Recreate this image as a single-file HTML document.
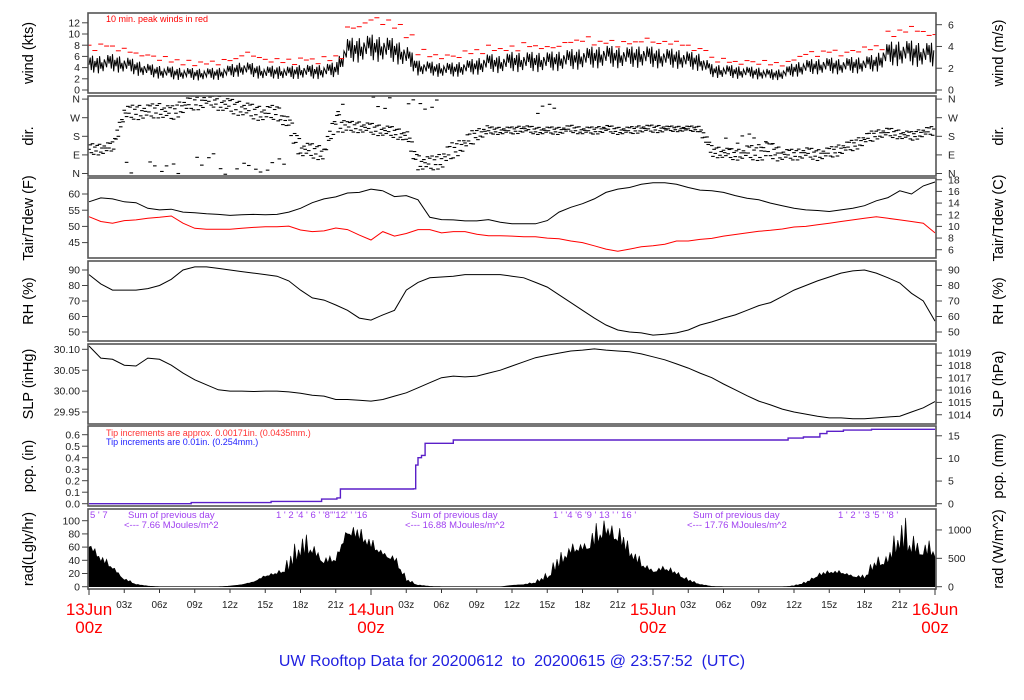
<!DOCTYPE html>
<html><head><meta charset="utf-8"><title>UW Rooftop Data</title>
<style>
html,body{margin:0;padding:0;background:#fff;}
svg{display:block;font-family:"Liberation Sans",Arial,sans-serif;}
.pre{white-space:pre;}
</style></head>
<body>
<svg id="chart" width="1024" height="700" viewBox="0 0 1024 700" xmlns="http://www.w3.org/2000/svg"></svg>
<script>
// ---------- data (hourly, h = 0..72) ----------
const windMean=[4.5,4.6,4.8,4.5,4.0,3.5,3.2,3.0,2.9,2.8,2.8,2.9,3.3,3.8,3.5,3.0,3.2,3.0,3.3,3.2,3.3,3.6,7.0,7.2,7.5,7.3,7.0,6.0,4.0,3.8,3.6,3.6,3.9,4.2,4.8,4.6,5.0,5.0,5.0,5.0,5.2,5.4,5.6,5.8,6.0,5.8,5.8,6.0,5.8,5.6,5.6,5.2,5.0,3.4,3.3,3.2,3.1,3.0,2.7,2.8,3.6,4.0,4.2,4.3,4.2,4.4,4.5,4.8,6.3,6.6,6.5,6.3,6.2];
const windSpread=[1.6,1.6,1.6,1.5,1.4,1.2,1.2,1.2,1.1,1.1,1.1,1.1,1.2,1.3,1.3,1.2,1.2,1.2,1.3,1.3,1.3,1.4,2.2,2.3,2.4,2.3,2.2,2.0,1.4,1.3,1.3,1.3,1.4,1.5,1.7,1.6,1.8,1.8,1.8,1.8,1.8,1.9,1.9,2.0,2.0,1.9,1.9,2.0,1.9,1.8,1.8,1.7,1.6,1.2,1.2,1.2,1.1,1.1,1.0,1.0,1.3,1.4,1.4,1.5,1.4,1.5,1.5,1.6,2.2,2.3,2.3,2.2,2.2];
const windGust=[7.5,8,7.5,7,6.5,6,5.5,5,4.8,4.8,4.8,5,5.5,6.5,6,5,5.2,5,5.5,5.2,5.5,6,11,11.5,12.5,12,11.5,9.5,6.8,6.2,6,6,6.5,6.8,7.5,7.2,7.5,8,7.8,7.5,8,8.5,9,8.5,8.5,8.2,8.5,9,8.5,8.2,8.3,7.5,7.2,5.5,5.2,5,5,4.8,4.5,4.6,5.8,6.5,6.5,7,6.5,7,7.2,7.5,10,10.5,11,10,9.8];
// direction: 0=N 1=E 2=S 3=W 4=N
const dirMain=[1.3,1.3,1.4,3.2,3.3,3.3,3.4,3.2,3.6,3.8,3.9,3.8,3.6,3.5,3.3,3.2,3.3,2.6,1.3,1.2,1.1,2.8,2.5,2.5,2.4,2.3,2.2,2.0,0.6,0.5,0.7,1.2,1.6,2.1,2.3,2.3,2.3,2.4,2.3,2.3,2.3,2.4,2.3,2.3,2.4,2.3,2.3,2.4,2.4,2.4,2.4,2.4,2.4,1.2,1.1,1.0,1.1,1.1,1.2,1.0,1.0,1.1,1.0,1.1,1.3,1.5,1.8,2.1,2.2,2.1,2.0,2.2,2.3];
const dirSpread=[0.3,0.3,0.3,0.4,0.4,0.4,0.4,0.4,0.4,0.4,0.3,0.4,0.4,0.4,0.4,0.4,0.4,0.5,0.4,0.4,0.4,0.5,0.3,0.3,0.3,0.3,0.3,0.4,0.4,0.4,0.5,0.4,0.4,0.3,0.2,0.2,0.2,0.2,0.2,0.2,0.2,0.2,0.2,0.2,0.2,0.2,0.2,0.2,0.2,0.15,0.15,0.15,0.3,0.3,0.3,0.3,0.4,0.5,0.4,0.3,0.3,0.3,0.3,0.3,0.3,0.3,0.3,0.25,0.25,0.25,0.25,0.25,0.25];
const dirScatter=[null,null,null,0.3,null,0.5,0.2,0.3,null,0.6,1.0,0.2,0.1,0.4,0.2,0.3,0.5,null,null,null,null,3.6,null,null,3.9,3.8,null,3.9,3.7,3.8,null,null,null,null,null,null,null,null,3.5,3.6,null,null,null,null,null,null,null,null,null,null,null,null,null,null,1.6,1.9,2.0,1.5,1.4,null,null,null,null,null,null,null,null,null,null,null,null,null,null];
const tempF=[57.6,58.8,58.5,57.6,57.3,55.6,55.1,55.3,54.4,54.2,53.9,53.7,53.4,53.6,53.7,53.6,53.7,54.4,55.6,57.3,58.5,59.1,60.3,60.5,61.5,61.0,59.2,59.5,58.2,52.8,52.1,52.0,51.7,51.7,52.1,51.3,50.8,50.8,50.8,51.8,54.4,55.9,57.0,58.5,60.5,61.5,62.0,63.0,63.5,63.5,63.0,62.0,61.2,61.0,60.5,59.5,58.7,58.2,57.2,56.4,55.6,55.1,54.9,54.6,55.1,55.6,56.4,57.9,58.9,61.0,60.0,62.5,63.7];
const dewF=[53.0,51.5,51.0,51.8,52.0,52.5,52.8,53.2,51.0,49.4,49.1,49.1,49.1,49.4,49.7,49.9,49.9,50.1,48.9,48.4,48.6,49.5,49.0,47.3,45.8,48.4,47.0,47.8,49.0,49.0,48.0,48.4,48.4,47.6,47.1,47.1,47.0,46.8,46.8,46.4,46.2,45.5,45.0,44.0,43.0,42.3,43.0,43.7,44.0,44.5,45.5,45.5,46.0,46.3,47.0,47.5,48.0,48.5,48.8,49.2,49.8,50.0,50.5,51.0,51.5,52.0,52.5,53.0,52.5,52.0,51.5,51.0,48.0];
const rhPct=[87,81,77,77,77,78,80,84,90,92,92,91,90,89,88,87,86,83,77,72,70.6,67.4,64,59,57.7,61,64,77,82,85,85.5,86,87,87,87,87,86,85,82,79,74,69,64,59,54.5,51.3,50,49.4,48,48.5,49.4,51.3,54.5,56.5,59,61,64,67,69,73,77,80,83,85.5,88,89.4,90,88,85,81.6,75,70,57];
const slpIn=[30.108,30.079,30.076,30.062,30.06,30.079,30.076,30.062,30.043,30.027,30.015,30.003,30.0,30.0,29.999,30.0,30.0,29.998,29.995,29.99,29.988,29.98,29.98,29.978,29.976,29.98,29.988,29.996,30.008,30.02,30.032,30.036,30.034,30.036,30.043,30.05,30.06,30.07,30.08,30.086,30.091,30.096,30.098,30.101,30.098,30.096,30.094,30.089,30.082,30.075,30.065,30.055,30.043,30.032,30.017,30.003,29.989,29.976,29.967,29.957,29.95,29.945,29.94,29.936,29.936,29.934,29.934,29.936,29.938,29.94,29.95,29.96,29.975];
const pcpHours=[0,8.7,15.5,19.8,21.1,21.4,27.6,27.8,28.0,28.3,28.6,31.0,59.5,60.8,62.2,62.8,64.2,66.6,72];
const pcpValues=[0,0.01,0.02,0.04,0.05,0.128,0.13,0.336,0.40,0.42,0.525,0.554,0.57,0.58,0.61,0.63,0.64,0.647,0.647];
const radBase=[60,38,27,10,3,1,0,0,0,0,0,0,1,3,7,15,19,23,45,50,35,38,80,70,58,48,38,8,2,0.5,0,0,0,0,0,0,2,3,5,12,28,50,55,60,78,68,45,30,22,25,18,8,3,0.5,0,0,0,0,0,0,1,5,15,20,20,15,12,30,35,55,50,48,45];
const radPeak=[65,50,35,15,4,1,0,0,0,0,0,0,1,3,8,18,22,45,85,80,50,45,92,90,75,58,50,15,3,0.5,0,0,0,0,0,0,2,4,8,25,50,65,75,100,100,95,65,45,30,32,25,12,4,0.5,0,0,0,0,0,0,2,8,20,25,25,20,18,50,45,110,110,75,70];
const xTickLabels=["","03z","06z","09z","12z","15z","18z","21z","","03z","06z","09z","12z","15z","18z","21z","","03z","06z","09z","12z","15z","18z","21z",""];
const dayLabels=["13Jun","14Jun","15Jun","16Jun"];

// ---------- geometry ----------
const svg=document.getElementById('chart');
const NS='http://www.w3.org/2000/svg';
const X0=89,PXH=11.75,FL=88,FR=936;
function X(h){return X0+h*PXH;}
function el(tag,attrs,parent){const e=document.createElementNS(NS,tag);for(const k in attrs)e.setAttribute(k,attrs[k]);(parent||svg).appendChild(e);return e;}
const yWind=v=>90-v*5.6;
const yDir=d=>173.5-d*18.6;
const yT=t=>194-(t-60)*3.24;
const yRH=r=>270-(r-90)*1.55;
const ySLP=p=>349.3-(p-30.10)*418;
const yPcp=v=>503.7-v*115;
const yRad=r=>586.7-r*0.66;
const PAT=[0,0.8,-0.6,1,-0.9,0.4,-0.3,0.7,-1,0.9,-0.5,0.2,-0.8,0.5,0.1,-0.4,0.95];

const panels=[
 {name:'wind-panel',t:13,b:93,lt:'wind (kts)',rt:'wind (m/s)'},
 {name:'direction-panel',t:96,b:176,lt:'dir.',rt:'dir.'},
 {name:'temperature-panel',t:178,b:258,lt:'Tair/Tdew (F)',rt:'Tair/Tdew (C)'},
 {name:'humidity-panel',t:261,b:341,lt:'RH (%)',rt:'RH (%)'},
 {name:'pressure-panel',t:344,b:424,lt:'SLP (inHg)',rt:'SLP (hPa)'},
 {name:'precip-panel',t:426,b:506,lt:'pcp. (in)',rt:'pcp. (mm)'},
 {name:'radiation-panel',t:509,b:589,lt:'rad(Lgly/hr)',rt:'rad (W/m^2)'}
];
const groups=panels.map(p=>{
  const g=el('g',{});
  
  
  const cp=el('clipPath',{id:'clip-'+p.name},g);
  el('rect',{x:FL,y:p.t,width:FR-FL,height:p.b-p.t},cp);
  const cy=(p.t+p.b)/2;
  const lt=el('text',{x:0,y:0,transform:`translate(33,${cy}) rotate(-90)`,'text-anchor':'middle','font-size':'14.5',fill:'#000'},g);
  lt.textContent=p.lt;
  
  
  const rt=el('text',{x:0,y:0,transform:`translate(1003,${cy}) rotate(-90)`,'text-anchor':'middle','font-size':'14.5',fill:'#000'},g);
  rt.textContent=p.rt;
  
  
  return g;
});
function frame(i){const p=panels[i];const r=el('rect',{x:FL,y:p.t,width:FR-FL,height:p.b-p.t,fill:'none',stroke:'#555','stroke-width':1.6},groups[i]);}
function leftTicks(i,vals,fy,labs){vals.forEach((v,k)=>{const y=fy(v);el('line',{x1:82,x2:FL,y1:y,y2:y,stroke:'#444'},groups[i]);const t=el('text',{x:80,y:y+3.6,'text-anchor':'end','font-size':'10.5',fill:'#222'},groups[i]);t.textContent=labs?labs[k]:v;});}
function rightTicks(i,ys,labs){ys.forEach((y,k)=>{el('line',{x1:FR,x2:942,y1:y,y2:y,stroke:'#444'},groups[i]);const t=el('text',{x:948,y:y+3.6,'font-size':'10.5',fill:'#222'},groups[i]);t.textContent=labs[k];});}
function clipG(i){return el('g',{'clip-path':'url(#clip-'+panels[i].name+')'},groups[i]);}
function pathFrom(arr,fy){return arr.map((v,h)=>(h?'L':'M')+X(h).toFixed(1)+','+fy(v).toFixed(1)).join('');}

// ---------- panel 1: wind ----------
(function(){const g=clipG(0);
 let d='';const N=10;
 for(let h=0;h<72;h++)for(let s=0;s<N;s++){const f=s/N;const m=windMean[h]*(1-f)+windMean[h+1]*f;const sp=windSpread[h]*(1-f)+windSpread[h+1]*f;const k=(h*N+s);const off=PAT[k%PAT.length]*sp;d+=(d?'L':'M')+X(h+f).toFixed(1)+','+yWind(m+off).toFixed(1);}
 const w=el('path',{d:d,fill:'none',stroke:'#000','stroke-width':1},g);
 const gg=el('g',{},g);
 windGust.forEach((v,h)=>{[0,0.5].forEach((f,j)=>{const off=PAT[(h*2+j+3)%PAT.length]*0.5;el('line',{x1:X(h+f)-2.5,x2:X(h+f)+2.5,y1:yWind(v+off),y2:yWind(v+off),stroke:'#f00','stroke-width':1},gg);});});
 const t=el('text',{x:106,y:22,'font-size':'9',fill:'#f00'},groups[0]);t.textContent='10 min. peak winds in red';
 frame(0);
 leftTicks(0,[0,2,4,6,8,10,12],yWind);
 rightTicks(0,[0,2,4,6].map(v=>yWind(v*1.9438)),['0','2','4','6']);
})();

// ---------- panel 2: direction ----------
(function(){const g=clipG(1);
 for(let h=0;h<72;h++){for(let s=0;s<10;s++){const f=s/10;const c=dirMain[h]*(1-f)+dirMain[h+1]*f;const v=c+PAT[(h*10+s)%PAT.length]*dirSpread[h];const y=yDir(v);el('line',{x1:X(h+f)-1.8,x2:X(h+f)+1.8,y1:y,y2:y,stroke:'#000','stroke-width':1.1},g);}
  if(dirScatter[h]!==null){[0.2,0.6].forEach((f,j)=>{const y=yDir(dirScatter[h]+PAT[(h+j)%PAT.length]*0.3);el('line',{x1:X(h+f)-1.8,x2:X(h+f)+1.8,y1:y,y2:y,stroke:'#000','stroke-width':1.1},g);});}}
 frame(1);
 leftTicks(1,[0,1,2,3,4],yDir,['N','E','S','W','N']);
 rightTicks(1,[0,1,2,3,4].map(yDir),['N','E','S','W','N']);
})();

// ---------- panel 3: temperature ----------
(function(){const g=clipG(2);
 const a=el('path',{d:pathFrom(tempF,yT),fill:'none',stroke:'#000','stroke-width':1},g);
 const b=el('path',{d:pathFrom(dewF,yT),fill:'none',stroke:'#f00','stroke-width':1},g);
 frame(2);
 leftTicks(2,[45,50,55,60],yT);
 const cs=[6,8,10,12,14,16,18];rightTicks(2,cs.map(c=>yT(c*1.8+32)),cs.map(String));
})();

// ---------- panel 4: RH ----------
(function(){const g=clipG(3);
 const a=el('path',{d:pathFrom(rhPct,yRH),fill:'none',stroke:'#000','stroke-width':1},g);
 frame(3);
 const v=[50,60,70,80,90];leftTicks(3,v,yRH);rightTicks(3,v.map(yRH),v.map(String));
})();

// ---------- panel 5: SLP ----------
(function(){const g=clipG(4);
 const a=el('path',{d:pathFrom(slpIn,ySLP),fill:'none',stroke:'#000','stroke-width':1},g);
 frame(4);
 leftTicks(4,[29.95,30.00,30.05,30.10],ySLP,['29.95','30.00','30.05','30.10']);
 const hp=[1014,1015,1016,1017,1018,1019];rightTicks(4,hp.map(p=>ySLP(p*0.02953)),hp.map(String));
})();

// ---------- panel 6: precipitation ----------
(function(){const g=clipG(5);
 let d='';pcpHours.forEach((h,k)=>{if(k===0)d='M'+X(h)+','+yPcp(pcpValues[0]);else d+='L'+X(h).toFixed(1)+','+yPcp(pcpValues[k-1]).toFixed(1)+'L'+X(h).toFixed(1)+','+yPcp(pcpValues[k]).toFixed(1);});
 const a=el('path',{d:d,fill:'none',stroke:'#5a1fc8','stroke-width':1.4},g);
 const t1=el('text',{x:106,y:436,'font-size':'9',fill:'#f33'},groups[5]);t1.textContent='Tip increments are approx. 0.00171in. (0.0435mm.)';
 const t2=el('text',{x:106,y:445,'font-size':'9',fill:'#22f'},groups[5]);t2.textContent='Tip increments are 0.01in. (0.254mm.)';
 frame(5);
 leftTicks(5,[0,0.1,0.2,0.3,0.4,0.5,0.6],yPcp,['0.0','0.1','0.2','0.3','0.4','0.5','0.6']);
 const mm=[0,5,10,15];rightTicks(5,mm.map(m=>yPcp(m/25.4)),mm.map(String));
})();

// ---------- panel 7: radiation ----------
(function(){const g=clipG(6);
 let d='M'+X(0)+','+yRad(0);const N=6;
 for(let h=0;h<72;h++)for(let s=0;s<N;s++){const f=s/N;const b=radBase[h]*(1-f)+radBase[h+1]*f;const p=radPeak[h]*(1-f)+radPeak[h+1]*f;const v=(s%2===0)?b:b+(p-b)*Math.abs(PAT[(h*N+s)%PAT.length]);d+='L'+X(h+f).toFixed(1)+','+yRad(v).toFixed(1);}
 d+='L'+X(72)+','+yRad(radBase[72])+'L'+X(72)+','+yRad(0)+'Z';
 const a=el('path',{d:d,fill:'#000',stroke:'#000','stroke-width':0.6},g);
 const pc='#a040f0';
 const notes=[[90,518,'5 \u0027 7'],[276,518,'1 \u0027 2 \u00274 \u0027 6 \u0027 \u00278\u0027\u0027\u002712\u0027 \u0027 \u002716'],[553,518,'1 \u0027 \u00274 \u00276 \u00279 \u0027 13 \u0027 \u0027 16 \u0027'],[838,518,'1 \u0027 2 \u0027 \u00273 \u00275 \u0027 \u00278 \u0027'],
   [128,518,'Sum of previous day'],[124,528,'<--- 7.66 MJoules/m^2'],[411,518,'Sum of previous day'],[405,528,'<--- 16.88 MJoules/m^2'],[693,518,'Sum of previous day'],[687,528,'<--- 17.76 MJoules/m^2']];
 notes.forEach(n=>{const t=el('text',{x:n[0],y:n[1],'font-size':'9.5',fill:pc},groups[6]);t.textContent=n[2];});
 frame(6);
 leftTicks(6,[0,20,40,60,80,100],yRad);
 const wm=[0,500,1000];rightTicks(6,wm.map(w=>yRad(w/11.63)),wm.map(String));
})();

// ---------- x axis ----------
(function(){const g=el('g',{});
 xTickLabels.forEach((lab,k)=>{const x=X(k*3);el('line',{x1:x,x2:x,y1:589,y2:lab?593:595,stroke:'#333'},g);
  if(lab){const t=el('text',{x:x,y:608,'text-anchor':'middle','font-size':'10',fill:'#222'},g);t.textContent=lab;}});
 dayLabels.forEach((lab,k)=>{const x=X(k*24);const t=el('text',{x:x,y:615,'text-anchor':'middle','font-size':'17',fill:'#f00'},g);t.textContent=lab;
  const t2=el('text',{x:x,y:633,'text-anchor':'middle','font-size':'17',fill:'#f00'},g);t2.textContent='00z';});
 const tt=el('text',{x:512,y:666,'text-anchor':'middle','font-size':'16',fill:'#2020e0','class':'pre'},g);tt.textContent='UW Rooftop Data for 20200612  to  20200615 @ 23:57:52  (UTC)';
})();
</script>
</body></html>
